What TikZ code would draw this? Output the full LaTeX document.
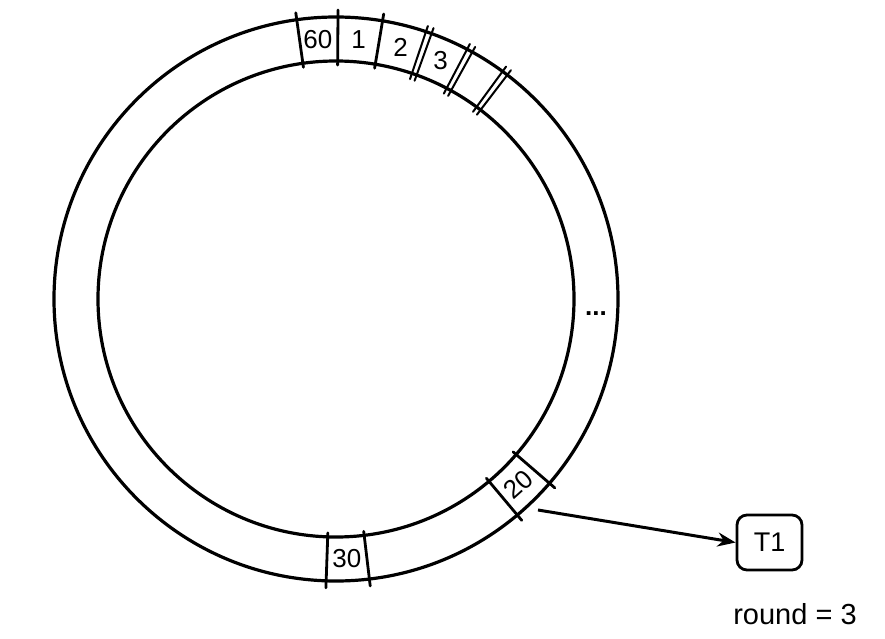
\documentclass[tikz,border=0pt]{standalone}
\usepackage{fontspec}
\setmainfont{Liberation Sans}
\usetikzlibrary{calc,arrows.meta}
\begin{document}
\begin{tikzpicture}[x=1pt,y=1pt,
  ring/.style={line width=3.2pt, draw=black},
  divider/.style={line width=2.8pt, line cap=round},
  slotlabel/.style={font=\fontsize{26}{28}\selectfont, inner sep=0pt},
  timerbox/.style={draw, line width=2.8pt, rounded corners=10pt, minimum width=65pt, minimum height=55pt, font=\fontsize{27}{30}\selectfont},
  note/.style={font=\fontsize{29}{32}\selectfont, inner sep=0pt},
  link/.style={line width=3pt, -{Stealth[length=18pt,width=14pt]}}
]
\useasboundingbox (0,0) rectangle (885,638);
\fill[white] (0,0) rectangle (885,638);
\coordinate (c) at (336,339);
% ring
\draw[ring] (c) circle[radius=282];
\draw[ring] (c) circle[radius=238];
% single dividers
\foreach \a in {98,89.6,80.5,-50,-40.8,-92,-83.2}{
  \draw[divider] ($(c)+(\a:234)$) -- ($(c)+(\a:289)$);
}
% double dividers
\foreach \a in {70.8,61.7,53.2}{
  \draw[divider,line width=2pt] ($(c)+(\a+0.6:232)$) -- ($(c)+(\a+0.6:288)$);
  \draw[divider,line width=2pt] ($(c)+(\a-0.6:232)$) -- ($(c)+(\a-0.6:288)$);
}
% labels
\node[slotlabel] (s60) at ($(c)+(94:260)$) {60};
\node[slotlabel] (s1) at ($(c)+(85:260)$) {1};
\node[slotlabel] (s2) at ($(c)+(75.6:260)$) {2};
\node[slotlabel] (s3) at ($(c)+(66.3:260)$) {3};
\node[slotlabel, rotate=42] (s20) at ($(c)+(-45.5:260)$) {20};
\node[slotlabel] (s30) at ($(c)+(-87.6:260)$) {30};
\node[slotlabel, font=\bfseries\fontsize{26}{28}\selectfont] (dots) at (596,324) {...};
% timer
\node[timerbox] (t1) at (769.5,95.5) {T1};
\coordinate (from) at (538,128);
\draw[link] (from) -- (t1.west);
\node[note] (round) at (795,24) {round = 3};
\end{tikzpicture}
\end{document}
